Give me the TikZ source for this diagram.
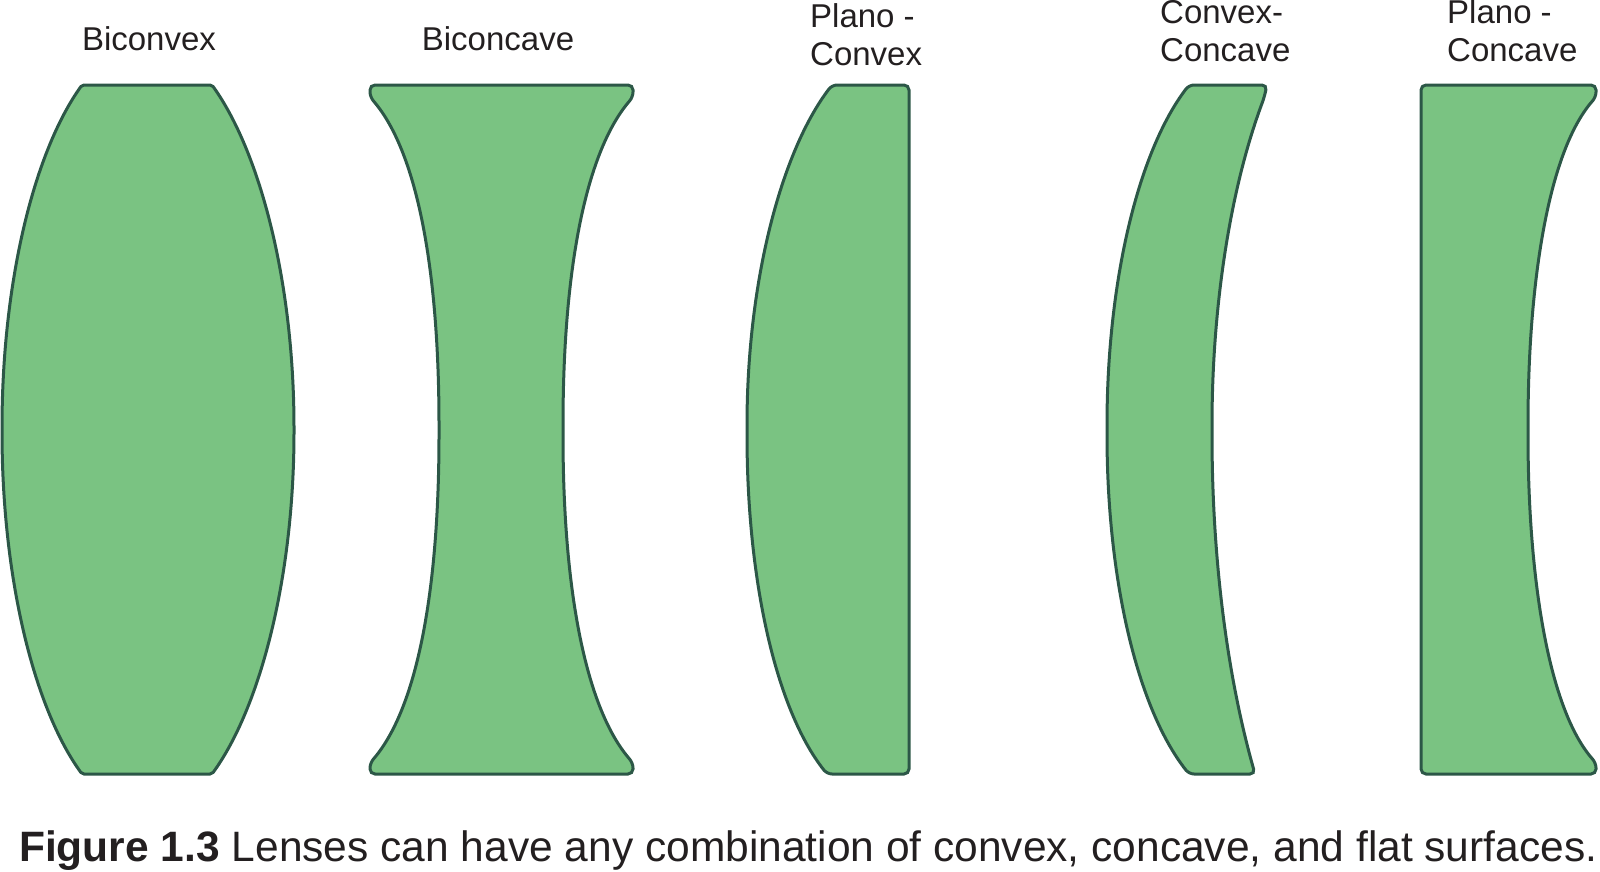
\documentclass[tikz,border=0pt]{standalone}
\usepackage{fontspec}
\setmainfont{Liberation Sans}
\usetikzlibrary{positioning}
\definecolor{lensgreen}{HTML}{7AC382}
\definecolor{lensedge}{HTML}{2C5747}
\definecolor{ink}{HTML}{231F20}
\tikzset{
  lens/.style={fill=lensgreen,draw=lensedge,line width=3pt,rounded corners=5pt},
  lenslabel/.style={text=ink,align=left,inner sep=0pt,font=\fontsize{33}{38}\selectfont},
  captiontext/.style={text=ink,anchor=west,inner sep=0pt,font=\fontsize{42.5}{46}\selectfont}
}
\begin{document}
\begin{tikzpicture}[x=1pt,y=-1pt]
  \useasboundingbox (0,0) rectangle (1600,871);
  % lenses
  \draw[lens,rounded corners=2pt] (147,85) -- (212,85)
    .. controls (260,152) and (294,282) .. (294,430)
    .. controls (294,578) and (260,708) .. (212,774) -- (82,774)
    .. controls (34,708) and (2,578) .. (2,430)
    .. controls (2,282) and (34,152) .. (82,85) -- cycle;
  \draw[lens] (500,85) -- (633,85) -- (633,97)
    .. controls (587,150) and (563,265) .. (563,430)
    .. controls (563,595) and (587,710) .. (633,763) -- (633,774) -- (370,774) -- (370,763)
    .. controls (416,710) and (439,595) .. (439,430)
    .. controls (439,265) and (416,150) .. (370,97) -- (370,85) -- cycle;
  \draw[lens] (870,85) -- (909,85) -- (909,774) -- (827,774)
    .. controls (775,708) and (747,578) .. (747,430)
    .. controls (747,282) and (781,152) .. (832,85) -- cycle;
  \draw[lens] (1230,85) -- (1267,85) -- (1264,98)
    .. controls (1229,192) and (1212,311) .. (1212,430)
    .. controls (1212,549) and (1225,668) .. (1255,774) -- (1189,774)
    .. controls (1137,708) and (1107,578) .. (1107,430)
    .. controls (1107,282) and (1138,152) .. (1189,85) -- cycle;
  \draw[lens] (1500,85) -- (1596,85) -- (1596,97)
    .. controls (1549,150) and (1528,280) .. (1528,430)
    .. controls (1528,580) and (1549,710) .. (1596,763) -- (1596,774) -- (1421,774) -- (1421,85) -- cycle;
  % labels
  \node[lenslabel] (biconvex) at (149,39) {Biconvex};
  \node[lenslabel] (biconcave) at (498,39) {Biconcave};
  \node[lenslabel,anchor=west] (planoconvex) at (810,35) {Plano -\\Convex};
  \node[lenslabel,anchor=west] (convexconcave) at (1160,31) {Convex-\\Concave};
  \node[lenslabel,anchor=west] (planoconcave) at (1447,31) {Plano -\\Concave};
  \node[captiontext] (caption) at (19,851) {\textbf{Figure 1.3} Lenses can have any combination of convex, concave, and flat surfaces.};
\end{tikzpicture}
\end{document}
